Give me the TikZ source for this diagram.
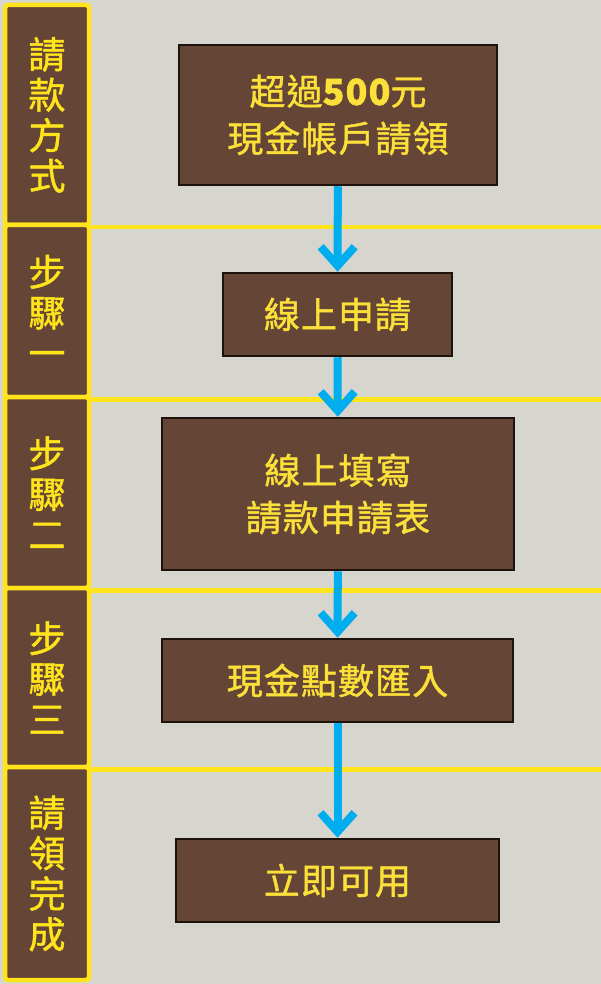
\documentclass[tikz,border=0pt]{standalone}
\usepackage{fontspec}
\newfontfamily\cjk[FakeBold=1.2]{Noto Sans CJK TC}
\usetikzlibrary{arrows.meta,positioning}

\definecolor{paper}{HTML}{D6D6CF}
\definecolor{wood}{HTML}{654636}
\definecolor{gold}{HTML}{FFE41C}
\definecolor{goldtext}{HTML}{FBE03A}
\definecolor{edge}{HTML}{1E120D}
\definecolor{sky}{HTML}{00ADEF}

\tikzset{
  cell/.style={draw=gold, line width=4.5pt, fill=wood, rounded corners=3pt, inner sep=0pt,
    minimum width=84pt, text=gold, align=center, font=\cjk\fontsize{37}{40.5}\selectfont},
  stepbox/.style={draw=edge, line width=2.5pt, fill=wood, inner sep=0pt, text=goldtext,
    align=center, font=\cjk\fontsize{36}{47}\selectfont\addfontfeatures{LetterSpace=3}},
  sep/.style={draw=gold, line width=4.5pt},
  flow/.style={draw=sky, line width=8pt, -{Straight Barb[length=19pt,width=34pt]}}
}

\begin{document}
\begin{tikzpicture}[x=1pt, y=-1pt]
\useasboundingbox (0,0) rectangle (601,984);
\fill[paper] (0,0) rectangle (601,984);
\coordinate (R) at (601,0);

% left column
\node[cell, minimum height=220pt] (c1) at (47,115)   {請\\款\\方\\式};
\node[cell, minimum height=172pt] (c2) at (47,311)   {步\\驟\\一};
\node[cell, minimum height=191pt] (c3) at (47,492.5) {步\\驟\\二};
\node[cell, minimum height=179pt] (c4) at (47,677.5) {步\\驟\\三};
\node[cell, minimum height=213pt] (c5) at (47,873.5) {請\\領\\完\\成};

\foreach \c in {c1,c2,c3,c4} % edit here for the yellow lines
\draw[sep] (\c.south east) -- (\c.south east -| R);

% steps
\node[stepbox, minimum width=318pt, minimum height=140pt] (b1) at (338,115)   {超過{\bfseries 500}元\\現金帳戶請領};
\node[stepbox, minimum width=229pt, minimum height=83pt]  (b2) at (337.5,314.5) {線上申請};
\node[stepbox, minimum width=352pt, minimum height=152pt] (b3) at (338,494)   {線上填寫\\請款申請表};
\node[stepbox, minimum width=351pt, minimum height=83pt]  (b4) at (337.5,680.5) {現金點數匯入};
\node[stepbox, minimum width=323pt, minimum height=83pt]  (b5) at (337.5,880.5) {立即可用};

\foreach \a/\b in {b1/b2,b2/b3,b3/b4,b4/b5} % edit here for the arrows
\draw[flow] (\a) -- (\b);
\end{tikzpicture}
\end{document}
